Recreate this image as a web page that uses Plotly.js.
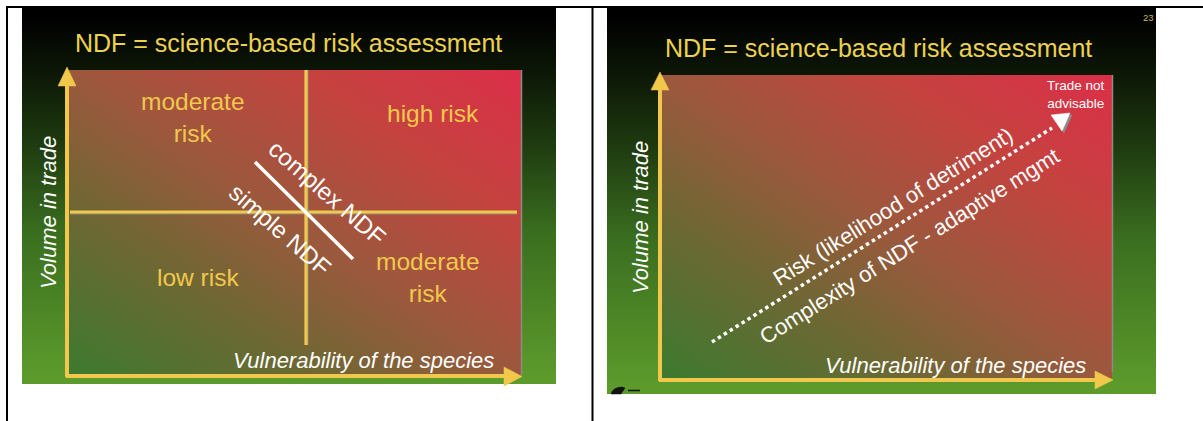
<!DOCTYPE html>
<html>
<head>
<meta charset="utf-8">
<script src="https://cdn.plot.ly/plotly-3.0.1.min.js"></script>
<style>html,body{margin:0;padding:0;background:#fff;}#chart{width:1203px;height:421px;}</style>
</head>
<body>
<div id="chart"></div>
<script>
// ---- content (text + gradient values) ----
const slideTitle = "NDF = science-based risk assessment";
const xAxisTitle = "Vulnerability of the species";
const yAxisTitle = "Volume in trade";
const quadrantLabels = ["moderate<br>risk", "high risk", "low risk", "moderate<br>risk"];
const ndfLabels = ["complex NDF", "simple NDF"];
const trendLabels = ["Risk (likelihood of detriment)", "Complexity of NDF - adaptive mgmt"];
const endLabel = "Trade not<br>advisable";
const pageNumber = "23";
// diagonal risk gradient: low vulnerability/low volume -> high/high
const riskX = [0, 1];
const riskY = [0, 1];
const riskZ = [[0, 0.5], [0.5, 1]];
const riskColors = [[0, '#3c7a2e'], [0.3, '#726634'], [0.5, '#9c583d'], [0.75, '#c4433f'], [1, '#dc2e48']];
// slide background (top -> bottom)
const bgColors = [[0, '#000000'], [0.15, '#0c1706'], [0.35, '#1e3a10'], [0.6, '#3a6e1f'], [1, '#5c9a2c']];
const bgLevels = [0, 0.05, 0.1, 0.15, 0.2, 0.25, 0.3, 0.35, 0.4, 0.45, 0.5, 0.55, 0.6, 0.65, 0.7, 0.75, 0.8, 0.85, 0.9, 0.95, 1];

const W = 1203, H = 421;
const FONT = 'Liberation Sans, Arial, sans-serif';
const YEL = '#f1c84b';

function bgTrace(x0, x1, y0, y1) {
  const n = bgLevels.length;
  const yEdges = [];
  for (let i = 0; i <= n; i++) yEdges.push(y0 + (y1 - y0) * i / n);
  return {
    type: 'heatmap', xaxis: 'x', yaxis: 'y',
    x: [x0, (x0 + x1) / 2, x1], y: yEdges,
    z: bgLevels.map(v => [v, v]),
    zmin: 0, zmax: 1, colorscale: bgColors, zsmooth: 'best',
    showscale: false, hoverinfo: 'skip'
  };
}
function riskTrace(ax) {
  return {
    type: 'heatmap', xaxis: 'x' + ax, yaxis: 'y' + ax,
    x: riskX, y: riskY, z: riskZ, zmin: 0, zmax: 1,
    colorscale: riskColors, zsmooth: 'best', showscale: false, hoverinfo: 'skip'
  };
}

const data = [
  bgTrace(22, 556, 8, 384),
  bgTrace(607, 1156, 8, 394),
  riskTrace(2),
  riskTrace(3)
];

const hidden = {visible: false, fixedrange: true};
const layout = {
  width: W, height: H,
  margin: {l: 0, r: 0, t: 0, b: 0},
  paper_bgcolor: '#ffffff', plot_bgcolor: 'rgba(0,0,0,0)',
  showlegend: false,
  xaxis: Object.assign({range: [0, W], domain: [0, 1]}, hidden),
  yaxis: Object.assign({range: [H, 0], domain: [0, 1]}, hidden),
  xaxis2: Object.assign({range: [0, 1], domain: [69 / W, 521 / W], anchor: 'y2'}, hidden),
  yaxis2: Object.assign({range: [0, 1], domain: [1 - 375 / H, 1 - 70 / H], anchor: 'x2'}, hidden),
  xaxis3: Object.assign({range: [0, 1], domain: [662 / W, 1112 / W], anchor: 'y3'}, hidden),
  yaxis3: Object.assign({range: [0, 1], domain: [1 - 378 / H, 1 - 75 / H], anchor: 'x3'}, hidden),
  shapes: [],
  annotations: []
};

const S = layout.shapes, A = layout.annotations;
function line(x0, y0, x1, y1, color, width, dash) {
  S.push({type: 'line', xref: 'x', yref: 'y', x0, y0, x1, y1, layer: 'above',
    line: {color, width, dash: dash || 'solid'}});
}
function path(p, color, lc) {
  S.push({type: 'path', xref: 'x', yref: 'y', path: p, layer: 'above', fillcolor: color,
    line: {color: lc || color, width: 0.5}});
}
function text(t, x, y, size, color, opts) {
  A.push(Object.assign({text: t, x, y, xref: 'x', yref: 'y', showarrow: false,
    xanchor: 'center', yanchor: 'middle',
    font: {family: FONT, size, color}}, opts || {}));
}

// table borders
line(6, 7, W, 7, '#000', 2);
line(7, 6, 7, H, '#000', 2);
line(592.5, 6, 592.5, H, '#000', 2);

// ---- slide 1 ----
// rect edge shading
line(521.5, 70, 521.5, 375, '#8c8c84', 1.5);
// quadrant lines (with slight grey shadow)
line(70, 213.5, 517, 213.5, '#8a8a7c', 2);
line(70, 212, 517, 212, YEL, 3.2);
line(307.5, 70, 307.5, 345, '#8a8a7c', 2);
line(306, 70, 306, 345, YEL, 3.2);
// diagonal white separator
line(255, 162, 353, 259, '#ffffff', 3.5);
// axes
line(67, 377, 67, 84, YEL, 4);
path('M 58,86 L 67,67 L 76,86 Z', YEL);
line(66, 376, 507, 376, YEL, 4);
path('M 504,367 L 522,376.5 L 504,386 Z', YEL);
// texts
text(slideTitle, 288, 43, 25, '#ecd250');
text(quadrantLabels[0], 193, 117, 24.5, YEL);
text(quadrantLabels[1], 433, 113, 24.5, YEL);
text(quadrantLabels[2], 198, 277, 24.5, YEL);
text(quadrantLabels[3], 428, 277, 24.5, YEL);
text(ndfLabels[0], 327, 192, 24, '#ffffff', {textangle: 41});
text(ndfLabels[1], 280, 229, 24, '#ffffff', {textangle: 41});
text('<i>' + xAxisTitle + '</i>', 363, 360, 22, '#ffffff');
text('<i>' + yAxisTitle + '</i>', 48, 213, 22, '#ffffff', {textangle: -90});

// ---- slide 2 ----
line(1112.5, 75, 1112.5, 372, '#8c8c84', 1.5);
line(660, 381, 660, 88, YEL, 4);
path('M 651,90 L 660,72 L 669,90 Z', YEL);
line(659, 380, 1097, 380, YEL, 4);
path('M 1095,371 L 1113,380 L 1095,389 Z', YEL);
// dotted trend arrow
line(712, 342, 1052, 128, '#ffffff', 3.5, 'dot');
path('M 1053,117 L 1072,115 L 1064,133 Z', '#8c8c8c');
path('M 1051,115 L 1070,113 L 1062,131 Z', '#ffffff');
// small logo remnants cut by the slide bottom
path('M 611,394 Q 613,387 622,387 L 625,388 L 621,394 Z', '#111111');
line(628, 390.5, 640, 390.5, '#111', 1.5);
// texts
text(slideTitle, 878, 48, 25, '#ecd250');
text(endLabel, 1076, 94, 13.5, '#ffffff');
text(trendLabels[0], 893, 206, 22, '#ffffff', {textangle: -32});
text(trendLabels[1], 909, 246, 22, '#ffffff', {textangle: -32});
text('<i>' + xAxisTitle + '</i>', 955, 365, 22, '#ffffff');
text('<i>' + yAxisTitle + '</i>', 640, 218, 22, '#ffffff', {textangle: -90});
text(pageNumber, 1148, 17, 9.5, '#c8b458');

Plotly.newPlot('chart', data, layout, {staticPlot: true, displayModeBar: false});
</script>
</body>
</html>
